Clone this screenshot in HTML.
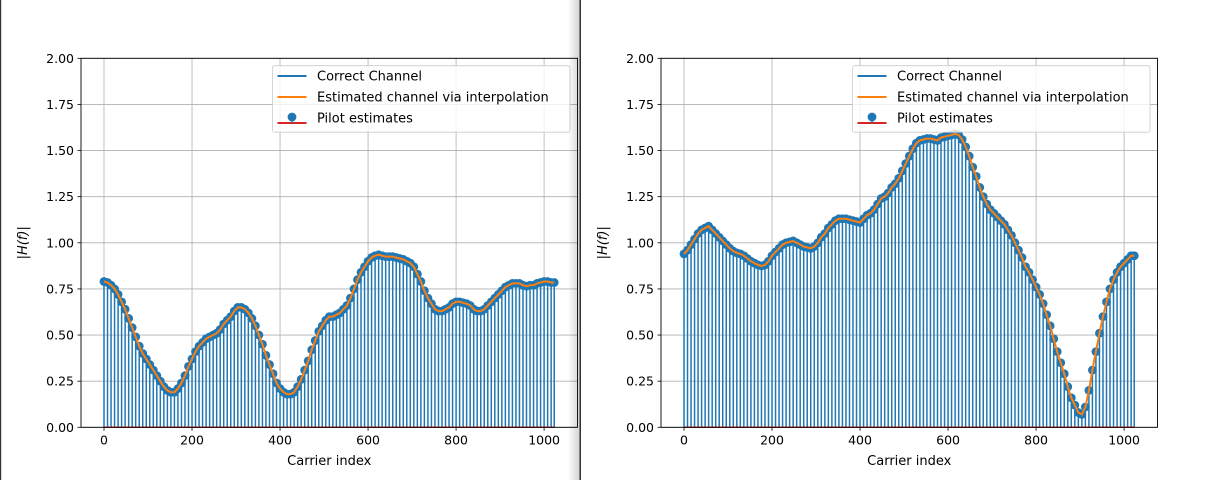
<!DOCTYPE html>
<html><head><meta charset="utf-8"><style>
body{margin:0;background:#fff;width:1220px;height:480px;overflow:hidden}
svg{display:block;font-family:"DejaVu Sans","Liberation Sans",sans-serif}
</style></head><body>
<svg id="fig" width="1220" height="480">
<defs><linearGradient id="sh" x1="0" x2="1"><stop offset="0" stop-color="#000" stop-opacity="0"/><stop offset="1" stop-color="#000" stop-opacity="0.18"/></linearGradient></defs>
</svg>
<script>
const yTicks=[0,0.25,0.5,0.75,1.0,1.25,1.5,1.75,2.0];
const yTickLabels=["0.00","0.25","0.50","0.75","1.00","1.25","1.50","1.75","2.00"];
const xTicks=[0,200,400,600,800,1000];
const pilotSpacing=8;
const lastCarrier=1023;
const leftPilots=[0.79,0.785,0.77,0.75,0.72,0.68,0.64,0.59,0.54,0.49,0.44,0.40,0.37,0.34,0.31,0.28,0.25,0.22,0.20,0.19,0.19,0.21,0.24,0.28,0.33,0.37,0.41,0.44,0.46,0.48,0.49,0.50,0.51,0.53,0.56,0.58,0.60,0.63,0.65,0.65,0.64,0.62,0.59,0.55,0.50,0.45,0.39,0.34,0.29,0.24,0.21,0.19,0.18,0.18,0.19,0.22,0.26,0.31,0.36,0.42,0.47,0.52,0.55,0.58,0.60,0.60,0.61,0.62,0.64,0.66,0.70,0.75,0.80,0.84,0.87,0.90,0.92,0.93,0.935,0.93,0.925,0.925,0.925,0.92,0.915,0.91,0.90,0.89,0.87,0.83,0.79,0.74,0.70,0.67,0.64,0.63,0.63,0.64,0.65,0.67,0.68,0.68,0.675,0.67,0.66,0.64,0.63,0.63,0.64,0.66,0.68,0.70,0.72,0.74,0.76,0.77,0.78,0.78,0.78,0.77,0.765,0.77,0.77,0.78,0.785,0.79,0.79,0.785,0.785];
const rightPilots=[0.94,0.96,0.99,1.02,1.05,1.07,1.08,1.09,1.07,1.05,1.03,1.01,0.99,0.97,0.955,0.945,0.94,0.93,0.915,0.9,0.89,0.88,0.875,0.88,0.9,0.93,0.95,0.97,0.99,1.0,1.005,1.01,1.0,0.99,0.98,0.975,0.97,0.98,1.0,1.03,1.05,1.08,1.10,1.12,1.13,1.13,1.13,1.125,1.12,1.115,1.11,1.13,1.15,1.16,1.18,1.21,1.24,1.25,1.27,1.30,1.32,1.35,1.39,1.43,1.47,1.51,1.54,1.555,1.56,1.565,1.565,1.56,1.555,1.57,1.575,1.58,1.585,1.59,1.585,1.56,1.52,1.47,1.41,1.36,1.30,1.25,1.21,1.18,1.16,1.14,1.12,1.10,1.07,1.04,1.00,0.96,0.92,0.87,0.84,0.80,0.76,0.72,0.67,0.61,0.55,0.48,0.41,0.35,0.29,0.22,0.16,0.12,0.08,0.07,0.11,0.2,0.31,0.41,0.51,0.6,0.68,0.75,0.80,0.84,0.87,0.89,0.91,0.93,0.93];
const legendLabels=["Correct Channel","Estimated channel via interpolation","Pilot estimates"];

const NS="http://www.w3.org/2000/svg";
const fig=document.getElementById('fig');
function mk(tag,attrs,parent){const e=document.createElementNS(NS,tag);for(const k in attrs)e.setAttribute(k,attrs[k]);(parent||fig).appendChild(e);return e;}

function panel(ox,vals,legX,name){
  const g=mk('g',{});
  
  
  const L=ox, R=ox+496.5, T=58.3, B=427.3, x0=ox+23, x1000=ox+463.1;
  const sx=v=>x0+(x1000-x0)*v/1000;
  const sy=v=>B-(B-T)*v/2;
  const carriers=vals.map((v,i)=>i===vals.length-1?lastCarrier:i*pilotSpacing);
  xTicks.forEach(t=>{const l=mk('line',{x1:sx(t),x2:sx(t),y1:T,y2:B,stroke:'#b0b0b0','stroke-width':0.8},g);
    });
  yTicks.forEach(t=>{const l=mk('line',{x1:L,x2:R,y1:sy(t),y2:sy(t),stroke:'#b0b0b0','stroke-width':0.8},g);
    });
  carriers.forEach((c,i)=>{const s=mk('line',{x1:sx(c),x2:sx(c),y1:sy(0),y2:sy(vals[i]),stroke:'#1f77b4','stroke-width':1.5},g);
    });
  carriers.forEach((c,i)=>{const m=mk('circle',{cx:sx(c),cy:sy(vals[i]),r:4.4,fill:'#1f77b4'},g);
    });
  const pts=carriers.map((c,i)=>sx(c).toFixed(1)+','+sy(vals[i]).toFixed(1)).join(' ');
  const bl=mk('polyline',{points:pts,fill:'none',stroke:'#1f77b4','stroke-width':1.5},g);
  
  const ol=mk('polyline',{points:pts,fill:'none',stroke:'#ff7f0e','stroke-width':2},g);
  
  const base=mk('line',{x1:sx(0),x2:sx(lastCarrier),y1:sy(0),y2:sy(0),stroke:'#d62728','stroke-width':1.5},g);
  
  const fr=mk('rect',{x:L,y:T,width:R-L,height:B-T,fill:'none',stroke:'#000','stroke-width':0.9},g);
  
  xTicks.forEach(t=>{mk('line',{x1:sx(t),x2:sx(t),y1:B,y2:B+3.5,stroke:'#000','stroke-width':0.8},g);
    const tx=mk('text',{x:sx(t),y:B+17,'font-size':12.5,'text-anchor':'middle',fill:'#000'},g);tx.textContent=t;
    });
  yTicks.forEach((t,i)=>{mk('line',{x1:L-3.5,x2:L,y1:sy(t),y2:sy(t),stroke:'#000','stroke-width':0.8},g);
    const tx=mk('text',{x:L-7,y:sy(t)+4.5,'font-size':12.5,'text-anchor':'end',fill:'#000'},g);tx.textContent=yTickLabels[i];
    });
  const xt=mk('text',{x:(L+R)/2,y:465,'font-size':13,'text-anchor':'middle'},g);xt.textContent='Carrier index';
  
  const yt=mk('text',{x:0,y:0,'font-size':13,'text-anchor':'middle','font-style':'italic',transform:`translate(${L-54},${(T+B)/2}) rotate(-90)`},g);yt.textContent='|H(f)|';
  
  const lg=mk('g',{},g);
  
  mk('rect',{x:legX,y:65.7,width:297.5,height:66.5,rx:2,fill:'#fff','fill-opacity':0.8,stroke:'#ccc','stroke-width':0.8},lg);
  const cols=['#1f77b4','#ff7f0e'];
  legendLabels.forEach((lab,i)=>{const y=76+i*21;
    const e=mk('g',{},lg);
    if(i<2)mk('line',{x1:legX+5,x2:legX+34,y1:y,y2:y,stroke:cols[i],'stroke-width':2},e);
    else{mk('line',{x1:legX+5,x2:legX+34,y1:y+5,y2:y+5,stroke:'#d62728','stroke-width':2},e);
      mk('line',{x1:legX+19.5,x2:legX+19.5,y1:y-3,y2:y+5,stroke:'#1f77b4','stroke-width':1.5},e);
      mk('circle',{cx:legX+19.5,cy:y-1,r:4.4,fill:'#1f77b4'},e);}
    const t=mk('text',{x:legX+44.5,y:y+4.5,'font-size':13},e);t.textContent=lab;});
}
panel(81,leftPilots,272.5,'left-channel-chart');
panel(661,rightPilots,852.5,'right-channel-chart');
const sh=mk('rect',{x:568,y:0,width:12,height:480,fill:'url(#sh)'});

const sep=mk('rect',{x:579.5,y:0,width:1.5,height:480,fill:'#333'});

const le=mk('rect',{x:0,y:0,width:1.2,height:480,fill:'#333'});

</script>
</body></html>
